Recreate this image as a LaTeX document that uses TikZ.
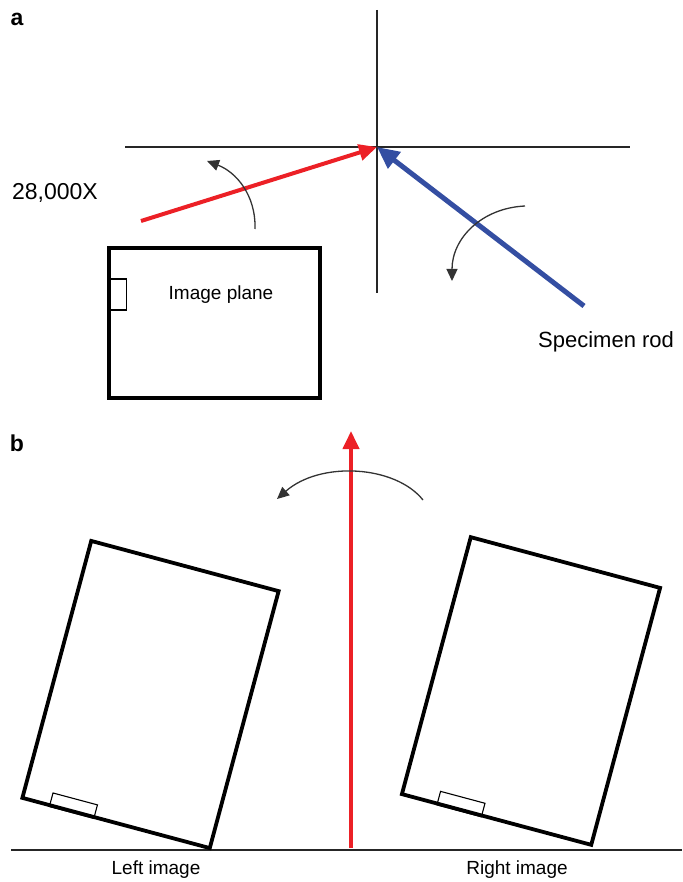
\documentclass[tikz,border=0pt]{standalone}
\usepackage{fontspec}
\setmainfont{Liberation Sans}
\usepackage{tikz}
\usetikzlibrary{positioning,arrows.meta,calc}
\definecolor{cbeam}{RGB}{236,32,38}
\definecolor{crod}{RGB}{52,78,162}

\begin{document}
\begin{tikzpicture}[x=1pt,y=-1pt,
  axis/.style={draw=black!85,line width=1.3pt},
  frame/.style={draw,line width=3.8pt,inner sep=0pt},
  tab/.style={draw,line width=1.1pt,inner sep=0pt,minimum width=46pt,minimum height=14pt},
  beam/.style={-{Triangle[length=18pt,width=16pt]},cbeam,line width=4pt},
  rod/.style={-{Triangle[length=22pt,width=20pt]},crod,line width=5pt},
  turn/.style={-{Triangle[length=12pt,width=11pt]},black!80,line width=1.3pt},
  lbl/.style={font=\fontsize{19}{22}\selectfont,inner sep=0pt},
  panel/.style={font=\fontsize{23}{26}\selectfont\bfseries,inner sep=0pt},
]
\useasboundingbox (0,0) rectangle (682,882);
% panel a
\node[panel] (pa) at (17,19) {a};
\coordinate (o) at (377,147);
\coordinate (vtop) at (377,10);
\coordinate (vbot) at (377,293);
\coordinate (hl) at (125,147);
\coordinate (hr) at (630,147);
\draw[axis] (vtop) -- (vbot);
\draw[axis] (hl) -- (hr);
\coordinate (beamtail) at (141,221);
\coordinate (rodtail) at (584,306);
\draw[beam] (beamtail) -- (o);
\draw[rod] (rodtail) -- (o);
\node[lbl,font=\fontsize{23}{26}\selectfont] (mag) at (55,193) {28,000X};
\node[lbl,font=\fontsize{22}{26}\selectfont,anchor=west] (rodlbl) at (538,342) {Specimen rod};
\node[frame,minimum width=211pt,minimum height=150pt] (plane) at (214.5,323) {};
\node[tab,minimum width=16pt,minimum height=31pt,anchor=west] (ptab) at (110,294.5) {};
\node[lbl] (planelbl) at (221,295) {Image plane};
\coordinate (t1a) at (255,229);
\coordinate (t1b) at (207,161);
\draw[turn] (t1a) .. controls (256,195) and (236,172) .. (t1b);
\coordinate (t2a) at (525,206);
\coordinate (t2b) at (452,281);
\draw[turn] (t2a) .. controls (482,208) and (452,238) .. (t2b);
% panel b
\node[panel] (pb) at (17,443) {b};
\coordinate (gl) at (11,850);
\coordinate (gr) at (682,850);
\draw[axis] (gl) -- (gr);
\coordinate (vtail) at (351,848);
\coordinate (vtip) at (351,431);
\draw[beam] (vtail) -- (vtip);
\coordinate (t3a) at (423,500);
\coordinate (t3b) at (277,499);
\draw[turn] (t3a) .. controls (395,465) and (320,461) .. (t3b);
\node[frame,rotate=-15,minimum width=194pt,minimum height=266pt] (lbox) at (150.5,694.5) {};
\node[frame,rotate=-15,minimum width=196pt,minimum height=266pt] (rbox) at (531,691) {};
\node[tab,rotate=-15,anchor=south west] (ltab) at ($(lbox.south west)!0.15!(lbox.south east)$) {};
\node[tab,rotate=-15,anchor=south west] (rtab) at ($(rbox.south west)!0.19!(rbox.south east)$) {};
\node[lbl] (llbl) at (156,870) {Left image};
\node[lbl] (rlbl) at (517,870) {Right image};
\end{tikzpicture}
\end{document}
